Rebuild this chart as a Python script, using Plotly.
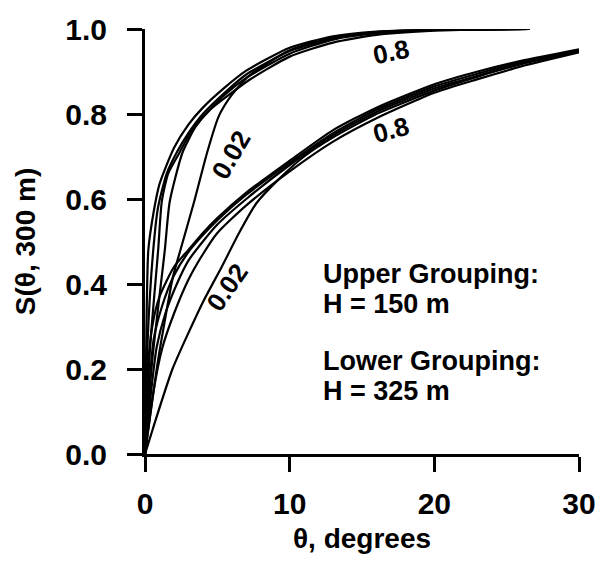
import plotly.graph_objects as go

# ---- Data (theta in degrees, S values) ----
# Upper grouping: H = 150 m
up_a_x = [0, 0.1, 0.23, 0.6, 1.0, 2.0, 3.0, 4.0, 5.5, 7.0, 10.0, 13.0, 16.0, 20.0, 26.6]
up_a_y = [0, 0.30, 0.48, 0.57, 0.635, 0.72, 0.775, 0.815, 0.862, 0.902, 0.956, 0.983, 0.994, 0.998, 1.0]
up_b_x = [0, 0.2, 0.57, 0.9, 1.5, 2.2, 3.0, 4.0, 5.5, 7.0, 10.0, 13.0, 16.0, 20.0, 26.6]
up_b_y = [0, 0.28, 0.48, 0.58, 0.66, 0.71, 0.755, 0.80, 0.85, 0.893, 0.948, 0.978, 0.992, 0.998, 1.0]
up_c_x = [0, 0.35, 0.91, 1.16, 1.6, 2.4, 3.2, 4.2, 5.5, 7.0, 10.0, 13.0, 16.0, 20.0, 26.6]
up_c_y = [0, 0.25, 0.48, 0.594, 0.66, 0.71, 0.76, 0.80, 0.845, 0.885, 0.942, 0.975, 0.990, 0.997, 1.0]
up_d_x = [0, 0.5, 1.37, 1.71, 2.6, 3.5, 4.5, 5.8, 7.2, 10.0, 13.0, 16.0, 20.0, 26.6]
up_d_y = [0, 0.22, 0.48, 0.594, 0.71, 0.77, 0.81, 0.845, 0.88, 0.935, 0.968, 0.986, 0.996, 1.0]
up_e_x = [0, 0.9, 1.94, 2.45, 3.4, 4.3, 5.1, 6.0, 7.2, 10.0, 13.0, 16.0, 20.0, 26.6]   # 0.02
up_e_y = [0, 0.22, 0.418, 0.48, 0.594, 0.71, 0.795, 0.845, 0.89, 0.95, 0.98, 0.993, 0.998, 1.0]

# Lower grouping: H = 325 m
lo_a_x = [0, 0.2, 0.5, 1.0, 2.0, 3.0, 4.0, 5.0, 7.0, 10.0, 13.0, 16.0, 20.0, 23.0, 26.0, 30.0]
lo_a_y = [0, 0.20, 0.30, 0.37, 0.44, 0.48, 0.52, 0.555, 0.615, 0.69, 0.762, 0.815, 0.87, 0.90, 0.925, 0.952]
lo_b_x = [0, 0.3, 0.6, 1.2, 2.0, 3.0, 4.0, 5.0, 7.0, 10.0, 13.0, 16.0, 20.0, 23.0, 26.0, 30.0]
lo_b_y = [0, 0.16, 0.27, 0.35, 0.42, 0.475, 0.515, 0.55, 0.61, 0.685, 0.755, 0.81, 0.865, 0.895, 0.922, 0.95]
lo_c_x = [0, 0.4, 0.8, 1.4, 2.2, 3.0, 4.0, 5.0, 7.0, 10.0, 13.0, 16.0, 20.0, 23.0, 26.0, 30.0]
lo_c_y = [0, 0.14, 0.25, 0.33, 0.40, 0.455, 0.50, 0.54, 0.60, 0.68, 0.75, 0.805, 0.86, 0.89, 0.918, 0.948]
lo_d_x = [0, 0.6, 1.2, 2.0, 3.0, 4.0, 5.0, 7.0, 10.0, 13.0, 16.0, 20.0, 23.0, 26.0, 30.0]   # 0.8
lo_d_y = [0, 0.15, 0.25, 0.33, 0.41, 0.47, 0.52, 0.585, 0.665, 0.735, 0.79, 0.85, 0.882, 0.912, 0.945]
lo_e_x = [0, 0.55, 1.9, 4.0, 5.3, 6.5, 7.7, 9.2, 11.0, 13.0, 16.0, 20.0, 23.0, 26.0, 30.0]   # 0.02
lo_e_y = [0, 0.06, 0.20, 0.357, 0.44, 0.52, 0.59, 0.645, 0.70, 0.745, 0.80, 0.855, 0.888, 0.918, 0.948]

curves = [
    (up_a_x, up_a_y), (up_b_x, up_b_y), (up_c_x, up_c_y), (up_d_x, up_d_y), (up_e_x, up_e_y),
    (lo_a_x, lo_a_y), (lo_b_x, lo_b_y), (lo_c_x, lo_c_y), (lo_d_x, lo_d_y), (lo_e_x, lo_e_y),
]

x_ticks = [0, 10, 20, 30]
y_ticks = [0.0, 0.2, 0.4, 0.6, 0.8, 1.0]

FONT = "Liberation Sans, Arial, sans-serif"

fig = go.Figure()
for cx, cy in curves:
    fig.add_trace(go.Scatter(x=cx, y=cy, mode="lines",
                             line=dict(color="black", width=2.2, shape="spline", smoothing=0.6),
                             showlegend=False, hoverinfo="skip"))

def ann(text, x, y, angle=0, size=26, xanchor="center", yanchor="middle"):
    fig.add_annotation(x=x, y=y, xref="x", yref="y", text=text, showarrow=False, textangle=angle,
                       xanchor=xanchor, yanchor=yanchor,
                       font=dict(family=FONT, size=size, color="black", weight="bold"))

ann("0.02", 5.95, 0.703, angle=-60)
ann("0.02", 5.7, 0.392, angle=-55)
ann("0.8", 17.0, 0.945, angle=-12)
ann("0.8", 17.0, 0.762, angle=-15)

ann("Upper Grouping:", 12.2, 0.424, size=27, xanchor="left")
ann("H = 150 m", 12.2, 0.3525, size=27, xanchor="left")
ann("Lower Grouping:", 12.2, 0.219, size=27, xanchor="left")
ann("H = 325 m", 12.2, 0.1475, size=27, xanchor="left")

fig.update_layout(
    width=608, height=562,
    margin=dict(l=145, r=25, t=24, b=104),
    paper_bgcolor="white", plot_bgcolor="white",
    font=dict(family=FONT, color="black"),
)
fig.update_xaxes(
    range=[0, 30], tickvals=x_ticks, ticktext=[str(v) for v in x_ticks],
    showgrid=False, zeroline=False, showline=True, linecolor="black", linewidth=3,
    ticks="outside", ticklen=15, tickwidth=3, tickcolor="black",
    tickfont=dict(family=FONT, size=30, color="black", weight="bold"), ticklabelstandoff=6,
    title=dict(text="θ, degrees", font=dict(family=FONT, size=28, color="black", weight="bold"), standoff=10),
)
fig.update_yaxes(
    range=[0, 1.0], tickvals=y_ticks, ticktext=[f"{v:.1f}" for v in y_ticks],
    showgrid=False, zeroline=False, showline=True, linecolor="black", linewidth=3,
    ticks="outside", ticklen=15, tickwidth=3, tickcolor="black",
    tickfont=dict(family=FONT, size=30, color="black", weight="bold"), ticklabelstandoff=14,
    title=dict(text="S(θ, 300 m)", font=dict(family=FONT, size=28, color="black", weight="bold"), standoff=22),
)

fig.write_html("out.html")
